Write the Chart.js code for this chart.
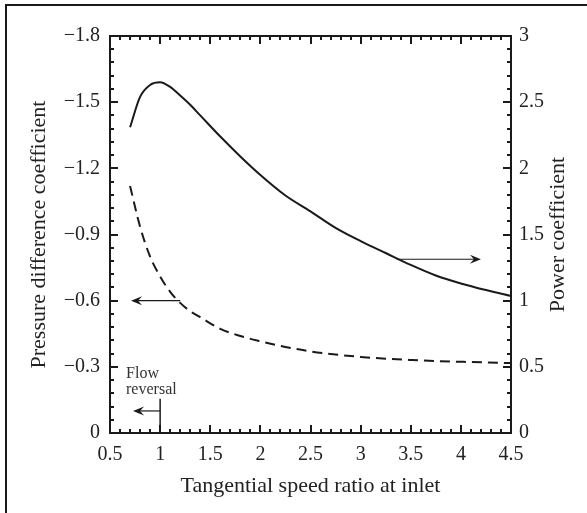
<!DOCTYPE html>
<html>
<head>
<meta charset="utf-8">
<script src="https://cdn.jsdelivr.net/npm/chart.js@4.4.0/dist/chart.umd.min.js"></script>
<style>
  html, body { margin: 0; padding: 0; background: #fff; }
  #wrap { width: 587px; height: 513px; position: relative; }
</style>
</head>
<body>
<div id="wrap"><canvas id="chart"></canvas></div>
<script>
// 数据：切向速度比 / 功率系数 / 压差系数
const speedRatio = [0.7, 0.8, 0.9, 1.0, 1.1, 1.2, 1.3, 1.4, 1.6, 1.8, 2.0, 2.25, 2.5, 2.75, 3.0, 3.25, 3.5, 3.75, 4.0, 4.25, 4.5];
const powerCoef = [2.31, 2.54, 2.63, 2.65, 2.615, 2.55, 2.48, 2.40, 2.24, 2.09, 1.95, 1.795, 1.675, 1.55, 1.45, 1.36, 1.27, 1.19, 1.13, 1.08, 1.035];
const pressureCoef = [-1.12, -0.935, -0.80, -0.71, -0.64, -0.59, -0.552, -0.525, -0.472, -0.44, -0.416, -0.39, -0.37, -0.356, -0.345, -0.337, -0.331, -0.326, -0.323, -0.32, -0.317];

// 刻度
const xTicks = [0.5, 1, 1.5, 2, 2.5, 3, 3.5, 4, 4.5];
const leftTicks = [-1.8, -1.5, -1.2, -0.9, -0.6, -0.3, 0];
const rightTicks = [0, 0.5, 1, 1.5, 2, 2.5, 3];

const serif = 'Liberation Serif';
const ink = '#1a1a1a';

function toPoints(xs, ys) {
  return xs.map((x, i) => ({ x: x, y: ys[i] }));
}

function setTicks(values) {
  return function(scale) {
    scale.ticks = values.map(v => ({ value: v }));
  };
}

function arrow(ctx, x1, y1, x2, y2) {
  // 从 (x1,y1) 指向 (x2,y2) 的箭头
  const ang = Math.atan2(y2 - y1, x2 - x1);
  const cos = Math.cos(ang), sin = Math.sin(ang);
  ctx.beginPath();
  ctx.moveTo(x1, y1);
  ctx.lineTo(x2 - cos * 6, y2 - sin * 6);
  ctx.stroke();
  ctx.beginPath();
  ctx.moveTo(x2, y2);
  ctx.lineTo(x2 - cos * 11 + sin * 4.5, y2 - sin * 11 - cos * 4.5);
  ctx.lineTo(x2 - cos * 7, y2 - sin * 7);
  ctx.lineTo(x2 - cos * 11 - sin * 4.5, y2 - sin * 11 + cos * 4.5);
  ctx.closePath();
  ctx.fill();
}

const decorations = {
  id: 'decorations',
  beforeDraw(chart) {
    const ctx = chart.ctx;
    ctx.save();
    ctx.fillStyle = ink;
    ctx.fillRect(5, 4, chart.width - 5, 2);
    ctx.fillRect(5, 4, 2, chart.height - 4);
    ctx.restore();
  },
  afterDatasetsDraw(chart) {
    const ctx = chart.ctx;
    const a = chart.chartArea;
    const sx = chart.scales.x, sl = chart.scales.yLeft, sr = chart.scales.yRight;
    ctx.save();
    ctx.strokeStyle = ink;
    ctx.fillStyle = ink;

    // 坐标框
    ctx.lineWidth = 2;
    ctx.strokeRect(a.left, a.top, a.right - a.left, a.bottom - a.top);

    // 向内的刻度线
    ctx.lineWidth = 2;
    ctx.beginPath();
    for (let i = 0; i <= 40; i++) {
      const px = Math.round(sx.getPixelForValue(0.5 + i * 0.1));
      const len = i % 5 === 0 ? 8 : 4;
      ctx.moveTo(px, a.bottom); ctx.lineTo(px, a.bottom - len);
      ctx.moveTo(px, a.top); ctx.lineTo(px, a.top + len);
    }
    for (let i = 0; i <= 30; i++) {
      const py = Math.round(sr.getPixelForValue(i * 0.1));
      const len = i % 5 === 0 ? 8 : 4;
      ctx.moveTo(a.left, py); ctx.lineTo(a.left + len, py);
      ctx.moveTo(a.right, py); ctx.lineTo(a.right - len, py);
    }
    ctx.stroke();

    // 标注箭头
    ctx.lineWidth = 1.2;
    arrow(ctx, sx.getPixelForValue(1.2), sl.getPixelForValue(-0.6), sx.getPixelForValue(0.71), sl.getPixelForValue(-0.6));
    arrow(ctx, sx.getPixelForValue(3.36), sr.getPixelForValue(1.313), sx.getPixelForValue(4.2), sr.getPixelForValue(1.313));

    // 回流标注
    const fx = sx.getPixelForValue(1.0);
    ctx.lineWidth = 1.5;
    ctx.beginPath();
    ctx.moveTo(fx, a.bottom);
    ctx.lineTo(fx, sl.getPixelForValue(-0.155));
    ctx.stroke();
    ctx.lineWidth = 1.2;
    arrow(ctx, fx, sl.getPixelForValue(-0.1), sx.getPixelForValue(0.73), sl.getPixelForValue(-0.1));
    ctx.font = '16px "' + serif + '"';
    ctx.fillStyle = '#333';
    ctx.textAlign = 'left';
    ctx.textBaseline = 'middle';
    ctx.fillText('Flow', sx.getPixelForValue(0.66), sl.getPixelForValue(-0.27));
    ctx.fillText('reversal', sx.getPixelForValue(0.66), sl.getPixelForValue(-0.195));

    // 右侧轴标题（自下而上）
    ctx.fillStyle = '#222';
    ctx.font = '22px "' + serif + '"';
    ctx.textAlign = 'center';
    ctx.translate(558, (a.top + a.bottom) / 2);
    ctx.rotate(-Math.PI / 2);
    ctx.fillText('Power coefficient', 0, 0);
    ctx.restore();
  }
};

const ctx = document.getElementById('chart').getContext('2d');
new Chart(ctx, {
  type: 'line',
  data: {
    datasets: [{
      label: 'Power coefficient',
      data: toPoints(speedRatio, powerCoef),
      yAxisID: 'yRight',
      borderColor: ink,
      borderWidth: 2,
      pointRadius: 0,
      fill: false,
      cubicInterpolationMode: 'monotone'
    }, {
      label: 'Pressure difference coefficient',
      data: toPoints(speedRatio, pressureCoef),
      yAxisID: 'yLeft',
      borderColor: ink,
      borderWidth: 2,
      borderDash: [10, 6],
      pointRadius: 0,
      fill: false,
      cubicInterpolationMode: 'monotone'
    }]
  },
  options: {
    responsive: true,
    maintainAspectRatio: false,
    animation: false,
    layout: { padding: { top: 36, left: 0, right: 0, bottom: 0 } },
    plugins: {
      legend: { display: false },
      tooltip: { enabled: false }
    },
    scales: {
      x: {
        type: 'linear',
        min: 0.5,
        max: 4.5,
        afterBuildTicks: setTicks(xTicks),
        afterFit: function(scale) { scale.height = 80; },
        grid: { display: false, drawTicks: false },
        border: { display: false },
        ticks: {
          padding: 10,
          color: '#222',
          font: { family: serif, size: 20 },
          maxRotation: 0,
          callback: v => String(v)
        },
        title: {
          display: true,
          text: 'Tangential speed ratio at inlet',
          color: '#222',
          font: { family: serif, size: 22 },
          padding: { top: 0, bottom: 14 }
        }
      },
      yLeft: {
        type: 'linear',
        position: 'left',
        min: -1.8,
        max: 0,
        reverse: true,
        afterBuildTicks: setTicks(leftTicks),
        afterFit: function(scale) { scale.width = 110; },
        grid: { display: false, drawTicks: false },
        border: { display: false },
        ticks: {
          padding: 10,
          color: '#222',
          font: { family: serif, size: 20 },
          callback: v => v === 0 ? '0' : '\u2212' + Math.abs(v).toFixed(1)
        },
        title: {
          display: true,
          text: 'Pressure difference coefficient',
          color: '#222',
          font: { family: serif, size: 22 },
          padding: { top: 26, bottom: 0 }
        }
      },
      yRight: {
        type: 'linear',
        position: 'right',
        min: 0,
        max: 3,
        afterBuildTicks: setTicks(rightTicks),
        afterFit: function(scale) { scale.width = 76; },
        grid: { display: false, drawTicks: false },
        border: { display: false },
        ticks: {
          padding: 8,
          color: '#222',
          font: { family: serif, size: 20 },
          callback: v => String(v)
        }
      }
    }
  },
  plugins: [decorations]
});
</script>
</body>
</html>
